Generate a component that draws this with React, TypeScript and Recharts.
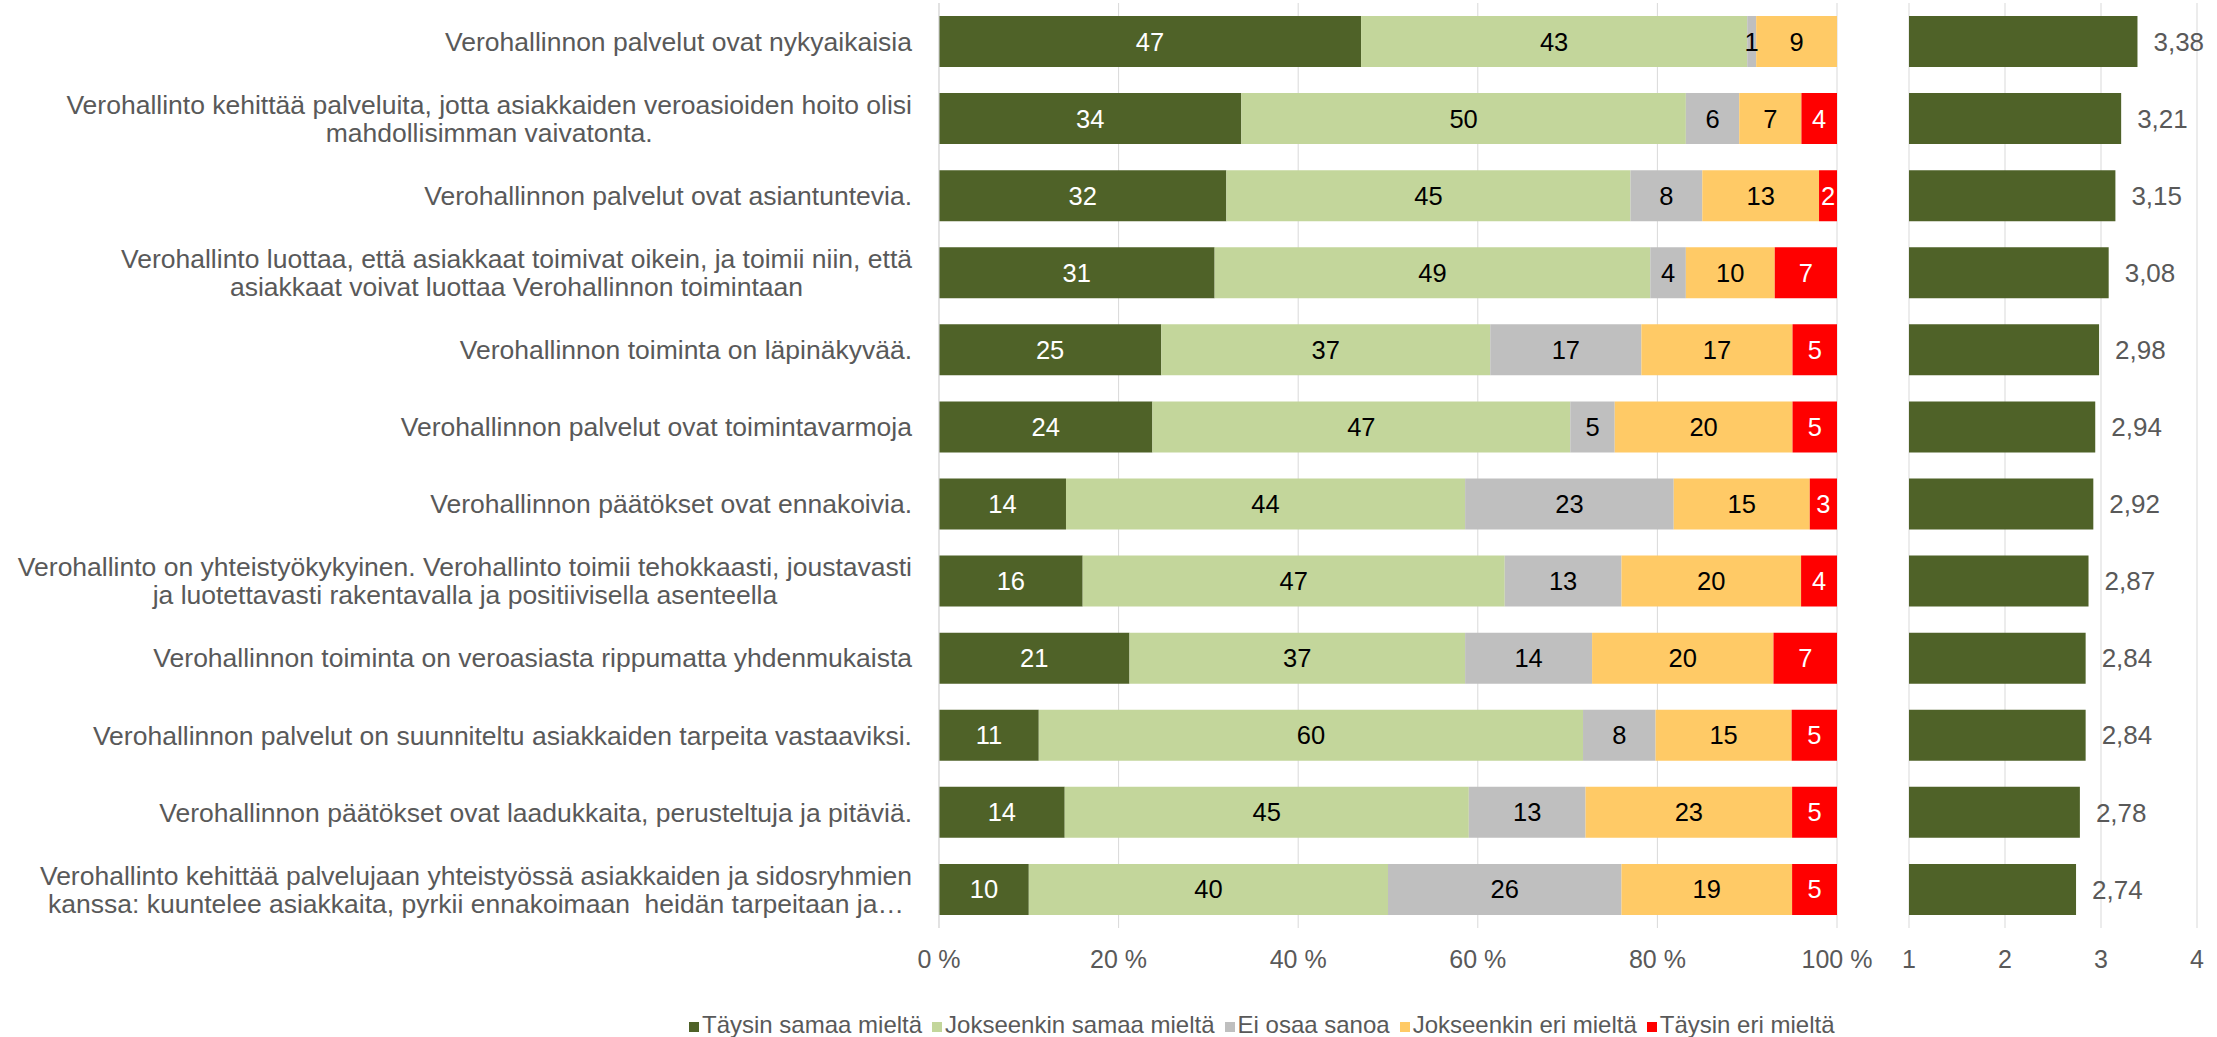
import React from 'react';
import { BarChart, Bar, XAxis, YAxis, CartesianGrid, LabelList } from 'recharts';

const categories = [
  'Verohallinnon palvelut ovat nykyaikaisia',
  'Verohallinto kehittää palveluita, jotta asiakkaiden veroasioiden hoito olisi\nmahdollisimman vaivatonta.',
  'Verohallinnon palvelut ovat asiantuntevia.',
  'Verohallinto luottaa, että asiakkaat toimivat oikein, ja toimii niin, että\nasiakkaat voivat luottaa Verohallinnon toimintaan',
  'Verohallinnon toiminta on läpinäkyvää.',
  'Verohallinnon palvelut ovat toimintavarmoja',
  'Verohallinnon päätökset ovat ennakoivia.',
  'Verohallinto on yhteistyökykyinen. Verohallinto toimii tehokkaasti, joustavasti\nja luotettavasti rakentavalla ja positiivisella asenteella',
  'Verohallinnon toiminta on veroasiasta rippumatta yhdenmukaista',
  'Verohallinnon palvelut on suunniteltu asiakkaiden tarpeita vastaaviksi.',
  'Verohallinnon päätökset ovat laadukkaita, perusteltuja ja pitäviä.',
  'Verohallinto kehittää palvelujaan yhteistyössä asiakkaiden ja sidosryhmien\nkanssa: kuuntelee asiakkaita, pyrkii ennakoimaan  heidän tarpeitaan ja…',
];

const taysinSamaa = [47, 34, 32, 31, 25, 24, 14, 16, 21, 11, 14, 10];
const jokseenkinSamaa = [43, 50, 45, 49, 37, 47, 44, 47, 37, 60, 45, 40];
const eiOsaaSanoa = [1, 6, 8, 4, 17, 5, 23, 13, 14, 8, 13, 26];
const jokseenkinEri = [9, 7, 13, 10, 17, 20, 15, 20, 20, 15, 23, 19];
const taysinEri = [0, 4, 2, 7, 5, 5, 3, 4, 7, 5, 5, 5];
const keskiarvot = [3.38, 3.21, 3.15, 3.08, 2.98, 2.94, 2.92, 2.87, 2.84, 2.84, 2.78, 2.74];

const seriesNames = ['Täysin samaa mieltä', 'Jokseenkin samaa mieltä', 'Ei osaa sanoa', 'Jokseenkin eri mieltä', 'Täysin eri mieltä'];
const seriesKeys = ['s0', 's1', 's2', 's3', 's4'];
const seriesColors = ['#4F6228', '#C3D69B', '#BFBFBF', '#FFCA66', '#FF0000'];
const labelColors = ['#FFFFFF', '#000000', '#000000', '#000000', '#FFFFFF'];
const percentTicks = [0, 0.2, 0.4, 0.6, 0.8, 1];
const meanTicks = [1, 2, 3, 4];

const seriesValues = [taysinSamaa, jokseenkinSamaa, eiOsaaSanoa, jokseenkinEri, taysinEri];
const data = categories.map((name, i) => {
  const row: any = { name, mean: keskiarvot[i] };
  seriesKeys.forEach((k, j) => { row[k] = seriesValues[j][i]; });
  return row;
});

const FONT = "'Liberation Sans', Arial, sans-serif";
const FS = 24;
const CAT_FS = 26.5;
const GREY = '#595959';

let ctx: CanvasRenderingContext2D | null = null;
const textWidth = (s: string) => {
  if (!ctx) ctx = document.createElement('canvas').getContext('2d');
  if (!ctx) return s.length * 13;
  ctx.font = `${CAT_FS}px ${FONT}`;
  return ctx.measureText(s).width;
};

// labels centred line by line, block right-aligned against the axis
const CategoryTick = ({ x, y, payload }: any) => {
  const lines = String(payload.value).split('\n');
  const block = Math.max(...lines.map(textWidth));
  const cx = x - block / 2;
  const lh = 28;
  const y0 = y - ((lines.length - 1) * lh) / 2;
  return (
    <text fill={GREY} fontSize={CAT_FS} fontFamily={FONT} textAnchor="middle" style={{ whiteSpace: 'pre' }}>
      {lines.map((l, i) => (
        <tspan key={i} x={cx} y={y0 + i * lh} dy="0.35em">{l}</tspan>
      ))}
    </text>
  );
};

const tickStyle = { fill: GREY, fontSize: 25, fontFamily: FONT };

export default function App() {
  return (
    <div style={{ position: 'absolute', left: 0, top: 0, width: 2217, height: 1037, background: '#fff', fontFamily: FONT }}>
      <div style={{ position: 'absolute', left: 0, top: 0 }}>
        <BarChart
          width={1885}
          height={1000}
          data={data}
          layout="vertical"
          stackOffset="expand"
          margin={{ top: 3, right: 48, bottom: 0, left: 0 }}
        >
          <CartesianGrid horizontal={false} stroke="#D9D9D9" />
          <XAxis
            type="number"
            domain={[0, 1]}
            ticks={percentTicks}
            tickFormatter={(v) => `${Math.round(v * 100)} %`}
            axisLine={false}
            tickLine={false}
            tickMargin={16}
            height={72}
            tick={tickStyle}
            interval={0}
          />
          <YAxis
            type="category"
            dataKey="name"
            width={939}
            axisLine={{ stroke: '#D9D9D9' }}
            tickLine={false}
            tickMargin={21}
            tick={<CategoryTick />}
            interval={0}
          />
          {seriesKeys.map((k, j) => (
            <Bar key={k} dataKey={k} name={seriesNames[j]} stackId="a" fill={seriesColors[j]} barSize={51} isAnimationActive={false}>
              <LabelList dataKey={k} position="center" fill={labelColors[j]} fontSize={25.5} fontFamily={FONT} />
            </Bar>
          ))}
        </BarChart>
      </div>

      <div style={{ position: 'absolute', left: 1890, top: 0 }}>
        <BarChart
          width={327}
          height={1000}
          data={data}
          layout="vertical"
          margin={{ top: 3, right: 20, bottom: 0, left: 19 }}
        >
          <CartesianGrid horizontal={false} stroke="#D9D9D9" />
          <XAxis
            type="number"
            domain={[1, 4]}
            ticks={meanTicks}
            axisLine={false}
            tickLine={false}
            tickMargin={16}
            height={72}
            tick={tickStyle}
            interval={0}
          />
          <YAxis type="category" dataKey="name" width={0} tick={false} tickLine={false} axisLine={{ stroke: '#A6A6A6' }} />
          <Bar dataKey="mean" fill="#4F6228" barSize={51} isAnimationActive={false}>
            <LabelList
              dataKey="mean"
              position="right"
              offset={16}
              fill={GREY}
              fontSize={26}
              fontFamily={FONT}
              formatter={(v: any) => Number(v).toFixed(2).replace('.', ',')}
            />
          </Bar>
        </BarChart>
      </div>

      <div
        style={{
          position: 'absolute',
          left: 689,
          top: 1011,
          display: 'flex',
          alignItems: 'center',
          gap: 10,
          fontSize: FS,
          color: GREY,
          whiteSpace: 'nowrap',
        }}
      >
        {seriesNames.map((n, j) => (
          <div key={n} style={{ display: 'flex', alignItems: 'center' }}>
            <span style={{ display: 'inline-block', width: 10, height: 10, background: seriesColors[j], marginRight: 3, marginTop: 4 }} />
            <span>{n}</span>
          </div>
        ))}
      </div>
    </div>
  );
}
